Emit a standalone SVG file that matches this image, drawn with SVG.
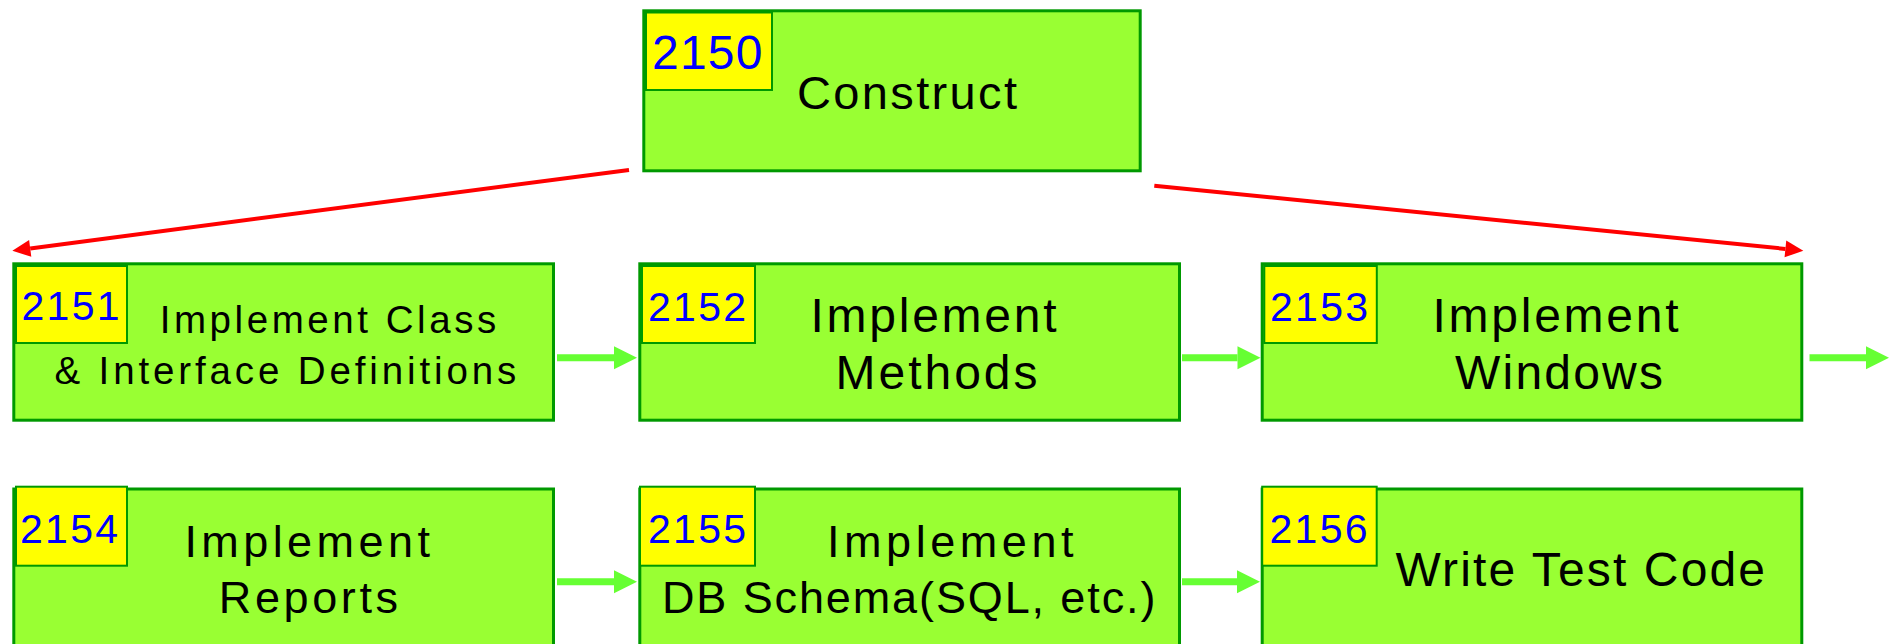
<svg xmlns="http://www.w3.org/2000/svg" width="1895" height="644" viewBox="0 0 1895 644">
<style>
.box{fill:#99FF33;stroke:#009900;stroke-width:3}
.tag{fill:#FFFF00;stroke:#009900;stroke-width:2}
.num{font-family:"Liberation Sans",Arial,sans-serif;fill:#0000FF;font-size:41px;letter-spacing:2.3px}
.lbl{font-family:"Liberation Sans",Arial,sans-serif;fill:#000000}
.red{stroke:#FF0000;stroke-width:4;fill:none}
.grn{stroke:#66FF33;stroke-width:7;fill:none}
</style>
<defs>
<marker id="redHead" markerUnits="userSpaceOnUse" markerWidth="18" markerHeight="17" refX="0" refY="8.5" orient="auto" overflow="visible">
<path d="M0,0 L18,8.5 L0,17 Z" fill="#FF0000"/>
</marker>
<marker id="grnHead" markerUnits="userSpaceOnUse" markerWidth="23" markerHeight="23" refX="0" refY="11.5" orient="auto" overflow="visible">
<path d="M0,0 L23,11.5 L0,23 Z" fill="#66FF33"/>
</marker>
</defs>

<g id="connectors">
<line class="red" x1="629" y1="170" x2="30.2" y2="248.4" marker-end="url(#redHead)"/>
<line class="red" x1="1154.3" y1="185.7" x2="1785.4" y2="248.9" marker-end="url(#redHead)"/>
<line class="grn" x1="557" y1="357.7" x2="614" y2="357.7" marker-end="url(#grnHead)"/>
<line class="grn" x1="1182" y1="357.7" x2="1237.5" y2="357.7" marker-end="url(#grnHead)"/>
<line class="grn" x1="1809.5" y1="357.7" x2="1866" y2="357.7" marker-end="url(#grnHead)"/>
<line class="grn" x1="557" y1="581.7" x2="614" y2="581.7" marker-end="url(#grnHead)"/>
<line class="grn" x1="1182" y1="581.7" x2="1237" y2="581.7" marker-end="url(#grnHead)"/>
</g>

<g id="n2150">
<rect class="box" x="643.8" y="10.8" width="496.4" height="160"/>
<rect class="tag" x="646" y="12.5" width="126" height="77.5"/>
<text class="num" x="652" y="69.3" style="font-size:48px;letter-spacing:1.2px">2150</text>
<text class="lbl" x="797" y="108.5" font-size="47" textLength="220" lengthAdjust="spacing">Construct</text>
</g>

<g id="n2151">
<rect class="box" x="13.8" y="263.8" width="539.7" height="156.4"/>
<rect class="tag" x="16" y="266" width="111" height="77"/>
<text class="num" x="21.5" y="319.5">2151</text>
<text class="lbl" x="159.7" y="333.3" font-size="38.5" textLength="336.5" lengthAdjust="spacing">Implement Class</text>
<text class="lbl" x="54.5" y="384" font-size="38.5" textLength="461.7" lengthAdjust="spacing">&amp; Interface Definitions</text>
</g>

<g id="n2152">
<rect class="box" x="639.8" y="263.8" width="539.7" height="156.4"/>
<rect class="tag" x="642" y="266" width="113" height="77"/>
<text class="num" x="648" y="321">2152</text>
<text class="lbl" x="810.5" y="331.7" font-size="48" textLength="246" lengthAdjust="spacing">Implement</text>
<text class="lbl" x="835.5" y="389" font-size="48" textLength="202" lengthAdjust="spacing">Methods</text>
</g>

<g id="n2153">
<rect class="box" x="1262.2" y="263.8" width="539.6" height="156.4"/>
<rect class="tag" x="1264.3" y="266" width="112.5" height="77"/>
<text class="num" x="1270" y="321">2153</text>
<text class="lbl" x="1432.5" y="331.7" font-size="48" textLength="246" lengthAdjust="spacing">Implement</text>
<text class="lbl" x="1455" y="388.5" font-size="48" textLength="208" lengthAdjust="spacing">Windows</text>
</g>

<g id="n2154">
<rect class="box" x="13.8" y="489" width="539.7" height="160"/>
<rect class="tag" x="16" y="486.7" width="111" height="79"/>
<text class="num" x="20" y="543.3">2154</text>
<text class="lbl" x="184.4" y="557.3" font-size="45" textLength="245.5" lengthAdjust="spacing">Implement</text>
<text class="lbl" x="218.8" y="612.7" font-size="45" textLength="179.2" lengthAdjust="spacing">Reports</text>
</g>

<g id="n2155">
<rect class="box" x="639.8" y="489" width="539.7" height="160"/>
<rect class="tag" x="640" y="486.7" width="115" height="79"/>
<text class="num" x="648" y="543.3">2155</text>
<text class="lbl" x="827" y="557.3" font-size="45" textLength="246.5" lengthAdjust="spacing">Implement</text>
<text class="lbl" x="662" y="613.3" font-size="45" textLength="493.4" lengthAdjust="spacing">DB Schema(SQL, etc.)</text>
</g>

<g id="n2156">
<rect class="box" x="1262.2" y="489" width="539.6" height="160"/>
<rect class="tag" x="1262.2" y="486.7" width="114.5" height="79"/>
<text class="num" x="1269.5" y="543.3">2156</text>
<text class="lbl" x="1395.5" y="586" font-size="48" textLength="369.5" lengthAdjust="spacing">Write Test Code</text>
</g>
</svg>
